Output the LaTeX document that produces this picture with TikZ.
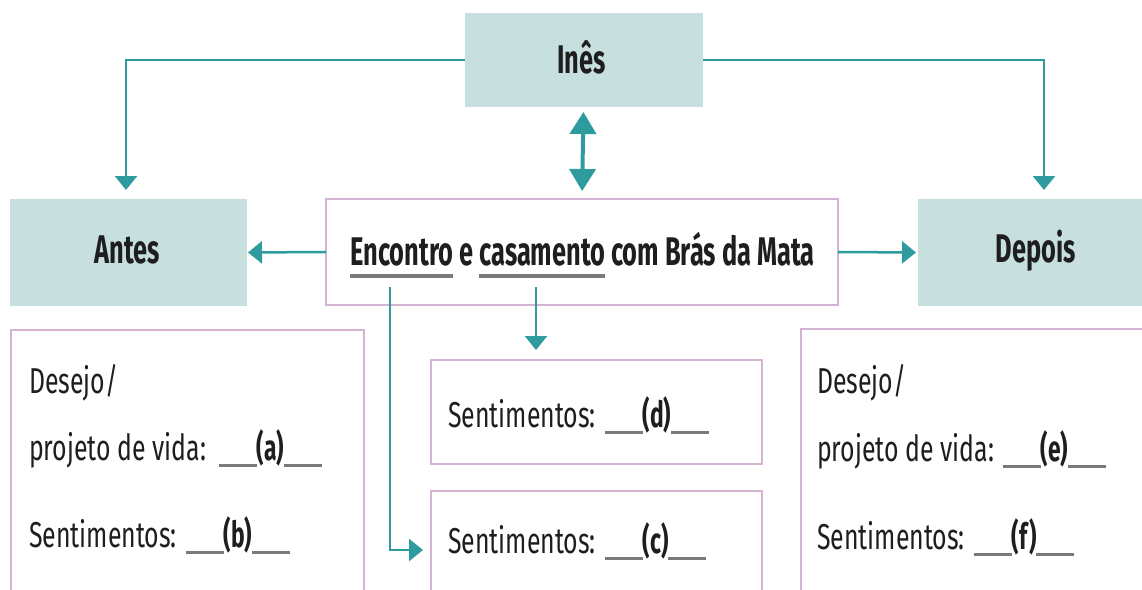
\documentclass[tikz,border=0pt]{standalone}
\usepackage{fontspec}
\setmainfont{Fira Sans}[FakeStretch=0.69,BoldFeatures={FakeStretch=0.635}]
\usetikzlibrary{arrows.meta}
\definecolor{tealfill}{HTML}{C8DFE0}
\definecolor{tealline}{HTML}{2E9C9E}
\definecolor{pinkline}{HTML}{D5B4D3}
\definecolor{ulgray}{HTML}{7A7A7A}
\definecolor{txt}{HTML}{1E1E1E}
\newcommand\blankfill[1]{\textcolor{ulgray}{\rule[-7pt]{38pt}{3.5pt}}\textbf{(#1)}\textcolor{ulgray}{\rule[-7pt]{38pt}{3.5pt}}}
\newsavebox\ulbox
\newcommand\ulword[1]{\leavevmode\sbox\ulbox{#1}\rlap{\textcolor{ulgray}{\rule[-13pt]{\wd\ulbox}{4pt}}}\usebox\ulbox}
\begin{document}
\begin{tikzpicture}[x=1pt,y=-1pt,
  bodyfont/.style={font=\fontsize{36}{40}\selectfont\color{txt}},
  titlefont/.style={font=\fontsize{40}{44}\selectfont\bfseries\color{txt}},
  tealbox/.style={fill=tealfill, inner sep=0pt, outer sep=0pt},
  pinkbox/.style={draw=pinkline, line width=2.5pt, fill=white, inner sep=0pt, outer sep=0pt},
  conn/.style={draw=tealline, line width=2.5pt, -{Triangle[length=14pt,width=22pt]}},
  dbl/.style={draw=tealline, line width=4pt, {Triangle[length=22pt,width=26pt]}-{Triangle[length=22pt,width=26pt]}},
  lbl/.style={bodyfont, anchor=base west, inner sep=0pt}]
\useasboundingbox (0,0) rectangle (1142,589);
\fill[white] (0,0) rectangle (1142,589);
\begin{scope}
\clip (0,0) rectangle (1142,589);
% teal boxes
\node[tealbox, minimum width=238pt, minimum height=94pt] (ines) at (583.5,60) {};
\node[tealbox, minimum width=237pt, minimum height=107pt] (antes) at (128.5,252.5) {};
\node[tealbox, minimum width=236pt, minimum height=107pt] (depois) at (1036,252.5) {};
% pink boxes
\node[pinkbox, minimum width=512pt, minimum height=106pt] (central) at (582,252) {};
\node[pinkbox, minimum width=353pt, minimum height=300pt, anchor=north west] (left) at (11,330) {};
\node[pinkbox, minimum width=360pt, minimum height=300pt, anchor=north west] (right) at (801,329) {};
\node[pinkbox, minimum width=331pt, minimum height=104pt, anchor=north west] (d) at (431,360) {};
\node[pinkbox, minimum width=331pt, minimum height=118pt, anchor=north west] (c) at (431,491) {};
% titles
\node[titlefont, anchor=base, inner sep=0pt] (inesT) at (581.5,73) {Inês};
\node[titlefont, anchor=base, inner sep=0pt] (antesT) at (127.5,263) {Antes};
\node[titlefont, anchor=base, inner sep=0pt] (depoisT) at (1035.5,262) {Depois};
\node[titlefont, anchor=base, inner sep=0pt] (centralT) at (582.5,265)
  {\ulword{Encontro} e \ulword{casamento} com Brás da Mata};
% texts
\node[lbl] (l1) at (29,393) {Desejo/};
\node[lbl] (l2) at (29,460) {projeto de vida:\hspace{4pt} \blankfill{a}};
\node[lbl] (l3) at (29,547) {Sentimentos: \blankfill{b}};
\node[lbl] (r1) at (817,393) {Desejo/};
\node[lbl] (r2) at (817,461) {projeto de vida: \blankfill{e}};
\node[lbl] (r3) at (817,549) {Sentimentos: \blankfill{f}};
\node[lbl] (dT) at (448,427) {Sentimentos: \blankfill{d}};
\node[lbl] (cT) at (448,553) {Sentimentos: \blankfill{c}};
% connectors
\draw[conn, shorten >=9pt] (ines.west) -| ([xshift=-2.5pt]antes.north);
\draw[conn, shorten >=9pt] (ines.east) -| ([xshift=8pt]depois.north);
\draw[dbl, shorten <=5pt, shorten >=8pt] (ines.south) -- (central.north);
\draw[conn, shorten >=1pt] (central.west) -- (antes.east);
\draw[conn, shorten >=2pt] (central.east) -- (depois.west);
\coordinate (encA) at (390,287);
\coordinate (casA) at (536,287);
\draw[conn, shorten >=8pt] (encA) |- (c.west);
\draw[conn, shorten >=10pt] (casA) -- (casA |- d.north);
\end{scope}
\end{tikzpicture}
\end{document}
